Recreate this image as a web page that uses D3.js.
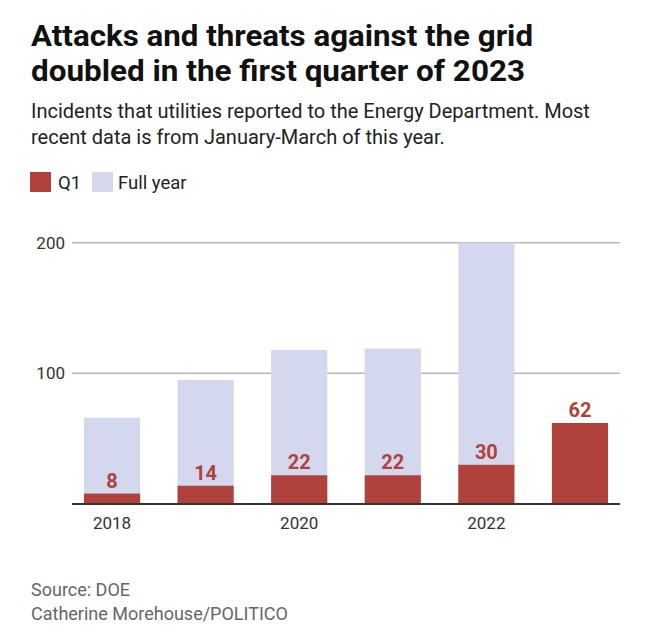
<!DOCTYPE html>
<html>
<head>
<meta charset="utf-8">
<script src="https://cdn.jsdelivr.net/npm/d3@7"></script>
<style>
  html, body { margin: 0; padding: 0; background: #fff; }
  svg { display: block; }
</style>
</head>
<body>
<script>
const years = ["2018", "2019", "2020", "2021", "2022", "2023"];
const fullYear = [66, 95, 118, 119, 200, null];
const q1 = [8, 14, 22, 22, 30, 62];
const yTicks = [100, 200];
const xTickLabels = ["2018", "2020", "2022"];

const W = 650, H = 640;
const svg = d3.select("body").append("svg").attr("width", W).attr("height", H);

const bodyFont = "Roboto, 'Liberation Sans', sans-serif";

// Title (condensed look via textLength)
const titleLines = [
  { text: "Attacks and threats against the grid", y: 46, len: 502 },
  { text: "doubled in the first quarter of 2023", y: 81, len: 494 }
];
svg.append("g").selectAll("text").data(titleLines).join("text")
  .attr("x", 31).attr("y", d => d.y)
  .attr("font-family", bodyFont).attr("font-weight", 700).attr("font-size", 30)
  .attr("fill", "#111")
  .attr("textLength", d => d.len).attr("lengthAdjust", "spacingAndGlyphs")
  .text(d => d.text);

// Subtitle
const sub = svg.append("text").attr("font-family", bodyFont).attr("font-size", 20).attr("fill", "#222");
sub.append("tspan").attr("x", 31).attr("y", 118).text("Incidents that utilities reported to the Energy Department. Most");
sub.append("tspan").attr("x", 31).attr("y", 144).text("recent data is from January-March of this year.");

// Legend
const red = "#b0413b", blue = "#d3d8ee";
const legend = svg.append("g").attr("font-family", bodyFont).attr("font-size", 18.5).attr("fill", "#222");
legend.append("rect").attr("x", 30).attr("y", 172).attr("width", 21).attr("height", 20).attr("fill", red);
legend.append("text").attr("x", 58).attr("y", 189).text("Q1");
legend.append("rect").attr("x", 92).attr("y", 172).attr("width", 21).attr("height", 20).attr("fill", blue);
legend.append("text").attr("x", 118).attr("y", 189).text("Full year");

// Scales
const x = d3.scaleBand().domain(years).range([72, 620]).paddingInner(0.4).paddingOuter(0.128);
const y = d3.scaleLinear().domain([0, 200]).range([504, 242.7]);

// Gridlines
svg.append("g").selectAll("line").data(yTicks).join("line")
  .attr("x1", 72).attr("x2", 620)
  .attr("y1", d => y(d)).attr("y2", d => y(d))
  .attr("stroke", "#b8b8b8").attr("stroke-width", 1.5);

// Y axis labels
const yAxis = svg.append("g").attr("transform", "translate(65,0)")
  .call(d3.axisLeft(y).tickValues(yTicks).tickSize(0).tickPadding(0));
yAxis.select(".domain").remove();
yAxis.selectAll("text").attr("font-family", bodyFont).attr("font-size", 17).attr("fill", "#333");

// Full-year bars
const data = years.map((yr, i) => ({ yr, full: fullYear[i], q: q1[i] }));
svg.append("g").selectAll("rect").data(data.filter(d => d.full != null)).join("rect")
  .attr("x", d => x(d.yr)).attr("width", x.bandwidth())
  .attr("y", d => y(d.full)).attr("height", d => y(0) - y(d.full))
  .attr("fill", blue);

// Q1 bars
svg.append("g").selectAll("rect").data(data).join("rect")
  .attr("x", d => x(d.yr)).attr("width", x.bandwidth())
  .attr("y", d => y(d.q)).attr("height", d => y(0) - y(d.q))
  .attr("fill", red);

// Q1 labels
svg.append("g").selectAll("text").data(data).join("text")
  .attr("x", d => x(d.yr) + x.bandwidth() / 2)
  .attr("y", d => y(d.q) - 6)
  .attr("text-anchor", "middle")
  .attr("font-family", bodyFont).attr("font-weight", 700).attr("font-size", 20)
  .attr("fill", red)
  .text(d => d.q);

// Baseline
svg.append("line").attr("x1", 72).attr("x2", 620).attr("y1", y(0)).attr("y2", y(0))
  .attr("stroke", "#333").attr("stroke-width", 2);

// X axis labels
const xAxis = svg.append("g").attr("transform", `translate(0,${y(0)})`)
  .call(d3.axisBottom(x).tickValues(xTickLabels).tickSize(0).tickPadding(13));
xAxis.select(".domain").remove();
xAxis.selectAll("text").attr("font-family", bodyFont).attr("font-size", 17).attr("fill", "#333");

// Footer
const foot = svg.append("text").attr("font-family", bodyFont).attr("font-size", 18).attr("fill", "#666");
foot.append("tspan").attr("x", 31).attr("y", 596).text("Source: DOE");
foot.append("tspan").attr("x", 31).attr("y", 620).text("Catherine Morehouse/POLITICO");
</script>
</body>
</html>
